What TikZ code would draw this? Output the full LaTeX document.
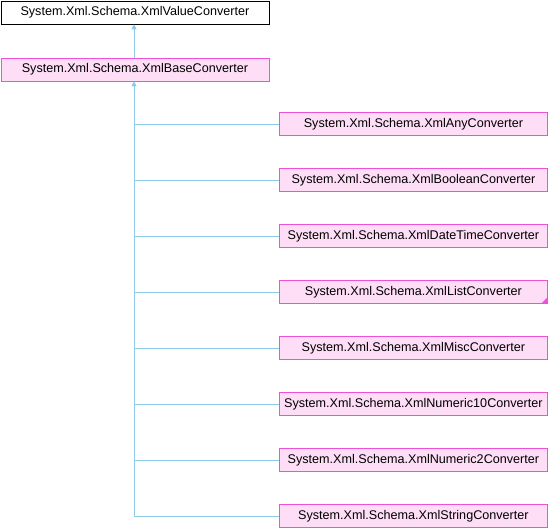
\documentclass[tikz,border=0pt]{standalone}
\usepackage{fontspec}
\setmainfont{Liberation Sans}
\usetikzlibrary{arrows.meta}
\definecolor{edgeblue}{HTML}{8CCAEA}
\definecolor{classborder}{HTML}{F050D8}
\definecolor{classfill}{HTML}{FEDEF6}
\tikzset{
  x=1pt, y=-1pt,
  basebox/.style={draw=black, fill=white, line width=0.8pt, minimum width=268pt, minimum height=23pt, inner sep=0pt, font=\fontsize{12.6}{14}\selectfont, anchor=north west},
  classbox/.style={draw=classborder, fill=classfill, line width=0.8pt, minimum width=268pt, minimum height=23pt, inner sep=0pt, font=\fontsize{12.6}{14}\selectfont, anchor=north west},
  inherit/.style={draw=edgeblue, line width=0.8pt, -{Triangle[length=5pt,width=5pt]}},
  link/.style={draw=edgeblue, line width=0.8pt}
}
\begin{document}
\begin{tikzpicture}
\useasboundingbox (0,0) rectangle (548,528);
\node[basebox] (value) at (0.5,0.5) {System.Xml.Schema.XmlValueConverter};
\node[classbox] (base) at (0.5,57.5) {System.Xml.Schema.XmlBaseConverter};
\draw[inherit] (base.north -| 134,0) -- (value.south -| 134,0);

\node[classbox] (any) at (279,112) {System.Xml.Schema.XmlAnyConverter};
\node[classbox] (bool) at (279,168) {System.Xml.Schema.XmlBooleanConverter};
\node[classbox] (datetime) at (279,224) {System.Xml.Schema.XmlDateTimeConverter};
\node[classbox] (list) at (279,280) {System.Xml.Schema.XmlListConverter};
\node[classbox] (misc) at (279,336) {System.Xml.Schema.XmlMiscConverter};
\node[classbox] (num10) at (279,392) {System.Xml.Schema.XmlNumeric10Converter};
\node[classbox] (num2) at (279,448) {System.Xml.Schema.XmlNumeric2Converter};
\node[classbox] (string) at (279,504) {System.Xml.Schema.XmlStringConverter};

% marker in the lower right corner of the list class
\fill[classborder] (list.south east) ++(-0.4,-0.4) -- ++(-6,0) -- ++(6,-6) -- cycle;

\coordinate (trunk) at (string.west -| 134,0);
\draw[inherit] (trunk) -- (base.south -| 134,0);
\foreach \n in {any,bool,datetime,list,misc,num10,num2,string}
  \draw[link] (\n.west) -- (\n.west -| 134,0);
\end{tikzpicture}
\end{document}
